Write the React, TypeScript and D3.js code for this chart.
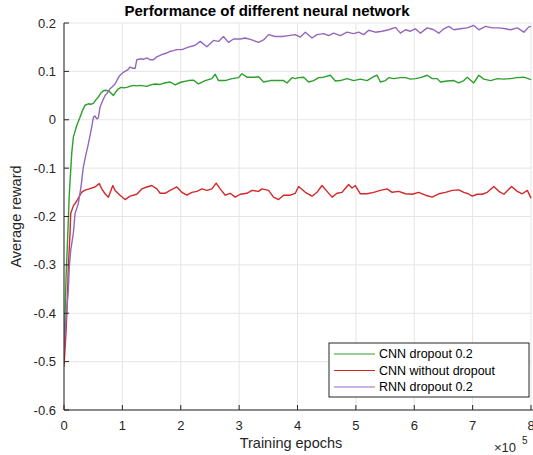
import React from "react";
import * as d3 from "d3";

const xTickValues = [0, 100, 200, 300, 400, 500, 600, 700, 800];
const xTickLabels = ["0", "1", "2", "3", "4", "5", "6", "7", "8"];
const yTickValues = [0.2, 0.1, 0, -0.1, -0.2, -0.3, -0.4, -0.5, -0.6];
const yTickLabels = ["0.2", "0.1", "0", "-0.1", "-0.2", "-0.3", "-0.4", "-0.5", "-0.6"];

const seriesNames = ["CNN dropout 0.2", "CNN without dropout", "RNN dropout 0.2"];
const seriesColors = ["#2ca02c", "#d62728", "#9467bd"];

// epochs in thousands
const greenEpochs = [0,1.7,3.4,5.7,7.4,9.1,11.5,13.2,16,21.8,27.4,32,36,41.7,46,50.3,54,58.8,63,67.4,72,76,80,84.6,89,93.1,98,103,107.5,113,118.9,124,130.4,136,141.9,148,156.1,164.7,172,181.8,190.4,199,201.9,213.2,221.8,230.4,241.9,253.3,259,264.7,276.2,287.6,299,304.8,313.4,324.7,333.3,341.9,353.3,364.8,376.2,382,390.6,396.2,401.9,410.5,419,427.6,436.2,444.8,456.3,464.8,473.4,484.9,496.2,507.7,519.2,530.5,536.4,542,550.6,556.3,564.8,576.3,584.9,593.5,602,610.6,622.1,630.7,639.3,644.9,656.4,667.8,676.3,684.9,690.7,702,710.6,719.2,730.7,742.2,753.5,765,776.5,787.8,800];
const greenReward = [-0.47,-0.41,-0.33,-0.26,-0.208,-0.153,-0.105,-0.07,-0.036,-0.012,0.005,0.02,0.03,0.033,0.032,0.034,0.04,0.047,0.055,0.06,0.061,0.059,0.056,0.05,0.058,0.064,0.067,0.066,0.067,0.069,0.071,0.07,0.071,0.07,0.069,0.072,0.074,0.073,0.076,0.078,0.072,0.077,0.078,0.081,0.082,0.074,0.081,0.085,0.094,0.081,0.081,0.085,0.087,0.095,0.088,0.088,0.089,0.078,0.081,0.081,0.081,0.076,0.087,0.085,0.087,0.088,0.078,0.081,0.087,0.088,0.092,0.08,0.081,0.085,0.081,0.084,0.081,0.089,0.092,0.078,0.081,0.087,0.085,0.087,0.087,0.084,0.085,0.087,0.092,0.085,0.085,0.078,0.08,0.081,0.076,0.081,0.088,0.076,0.092,0.084,0.081,0.085,0.084,0.085,0.087,0.088,0.083];

const redEpochs = [0,3.4,5.7,7.4,10.3,11.5,16,21.8,30,35,43,53,60.5,64.7,70.3,76,83.6,87.5,96,104.6,113.2,124.7,133.3,141.9,150.4,159,164.7,173.2,181.8,193.3,201.9,210.5,219,227.6,236.2,244.8,253.3,260.7,267.6,276.2,284.7,293.3,301.9,313.4,321.9,333.3,339,350.4,359,367.6,376.2,387.6,396.2,401.9,413.4,424.9,433.4,442,450.6,459.2,467.8,476.3,487.6,493.5,499.1,507.7,519.2,530.5,542,553.5,562.1,573.4,584.9,596.4,607.7,619.2,630.7,642,653.5,665,676.3,684.9,692.5,699.3,707.9,716.5,725,736.4,744.9,753.5,766.7,776.5,785.1,793.7,800];
const redReward = [-0.51,-0.44,-0.373,-0.305,-0.235,-0.194,-0.178,-0.168,-0.15,-0.146,-0.143,-0.139,-0.132,-0.143,-0.153,-0.16,-0.136,-0.146,-0.156,-0.165,-0.158,-0.154,-0.143,-0.139,-0.136,-0.143,-0.152,-0.152,-0.146,-0.139,-0.15,-0.156,-0.15,-0.148,-0.143,-0.146,-0.143,-0.131,-0.143,-0.156,-0.152,-0.16,-0.154,-0.152,-0.146,-0.148,-0.143,-0.146,-0.16,-0.165,-0.156,-0.156,-0.152,-0.138,-0.15,-0.158,-0.15,-0.136,-0.148,-0.16,-0.152,-0.15,-0.134,-0.141,-0.136,-0.153,-0.153,-0.15,-0.146,-0.143,-0.15,-0.148,-0.153,-0.154,-0.15,-0.156,-0.16,-0.153,-0.15,-0.146,-0.145,-0.15,-0.153,-0.158,-0.154,-0.154,-0.15,-0.138,-0.148,-0.154,-0.138,-0.148,-0.153,-0.146,-0.162];

const purpleEpochs = [0,1.7,4.6,7.4,9.1,11.5,16,18.9,24.5,29,33.1,37,41.7,45,47.5,50.3,53,56.1,58.8,61.7,64.7,70.3,73.2,78.9,81.8,87.5,93.1,96,101.7,104.6,109,113.2,117,121.8,124.7,130.4,136,141.9,147.5,153.2,159,164.7,170.3,176.2,181,187.5,193,201.9,213.2,224.7,233.3,244.8,256.1,264.7,273.2,281.8,290.4,301.9,310.5,321.9,333.3,341.9,350.4,361.9,373.4,384.7,396.2,404.8,413.4,424.9,433.4,444.8,453.3,461.9,473.4,484.9,496.2,504.8,513.4,521.9,533.4,544.9,556.3,567.8,576.3,584.9,593.5,602,610.6,622.1,633.4,642,650.6,659.2,667.8,679.2,690.7,702,710.6,722.1,733.6,744.9,756.4,765,776.5,787.8,796.4,800];
const purpleReward = [-0.48,-0.44,-0.394,-0.353,-0.305,-0.27,-0.235,-0.194,-0.173,-0.14,-0.098,-0.075,-0.05,-0.03,-0.015,0.005,0.008,0.002,0.004,0.026,0.035,0.05,0.054,0.064,0.067,0.074,0.087,0.092,0.098,0.1,0.103,0.109,0.107,0.106,0.124,0.126,0.125,0.128,0.124,0.124,0.13,0.133,0.136,0.138,0.141,0.143,0.145,0.145,0.15,0.154,0.162,0.151,0.164,0.162,0.172,0.16,0.167,0.167,0.169,0.165,0.16,0.165,0.176,0.172,0.172,0.174,0.176,0.171,0.181,0.169,0.176,0.178,0.174,0.179,0.174,0.181,0.178,0.181,0.176,0.185,0.181,0.183,0.186,0.191,0.179,0.186,0.183,0.188,0.179,0.19,0.186,0.179,0.188,0.193,0.186,0.188,0.19,0.195,0.186,0.193,0.19,0.19,0.188,0.186,0.19,0.181,0.192,0.193];

const W = 533, H = 455;
const L = 64, R = 531, T = 23, B = 410;
const FONT = "'Liberation Sans', Arial, Helvetica, sans-serif";
const TXT = "#262626";

export default function App() {
  const x = d3.scaleLinear().domain([0, 800]).range([L, R]);
  const y = d3.scaleLinear().domain([-0.6, 0.2]).range([B, T]);
  const line = d3.line<[number, number]>().x((d) => x(d[0])).y((d) => y(d[1]));
  const series = [
    greenEpochs.map((e, i) => [e, greenReward[i]] as [number, number]),
    redEpochs.map((e, i) => [e, redReward[i]] as [number, number]),
    purpleEpochs.map((e, i) => [e, purpleReward[i]] as [number, number]),
  ];
  const legX = 329, legY = 343, legW = 200, legH = 54;
  return (
    <svg width={W} height={H} style={{ position: "absolute", left: 0, top: 0, background: "#fff" }} fontFamily={FONT}>
      <defs>
        <clipPath id="plot">
          <rect x={L} y={T - 1} width={R - L + 2} height={B - T + 2} />
        </clipPath>
      </defs>
      {/* grid */}
      {xTickValues.map((v) => (
        <line key={"gx" + v} x1={x(v)} x2={x(v)} y1={T} y2={B} stroke="#e5e5e5" strokeWidth={1} />
      ))}
      {yTickValues.map((v) => (
        <line key={"gy" + v} x1={L} x2={R} y1={y(v)} y2={y(v)} stroke="#e5e5e5" strokeWidth={1} />
      ))}
      {/* lines */}
      <g clipPath="url(#plot)">
        {series.map((s, i) => (
          <path key={i} d={line(s) || ""} fill="none" stroke={seriesColors[i]} strokeWidth={1.4} strokeLinejoin="round" />
        ))}
      </g>
      {/* axes */}
      <line x1={L} x2={L} y1={T} y2={B} stroke={TXT} strokeWidth={1} />
      <line x1={L} x2={R + 2} y1={B} y2={B} stroke={TXT} strokeWidth={1} />
      {yTickValues.map((v, i) => (
        <g key={"yt" + v}>
          <line x1={L} x2={L + 5} y1={y(v)} y2={y(v)} stroke={TXT} strokeWidth={1} />
          <text x={L - 8} y={y(v)} dy="0.35em" textAnchor="end" fontSize={13} fill={TXT}>
            {yTickLabels[i]}
          </text>
        </g>
      ))}
      {xTickValues.map((v, i) => (
        <g key={"xt" + v}>
          <line x1={x(v)} x2={x(v)} y1={B} y2={B - 5} stroke={TXT} strokeWidth={1} />
          <text x={x(v)} y={B + 20} textAnchor="middle" fontSize={13} fill={TXT}>
            {xTickLabels[i]}
          </text>
        </g>
      ))}
      {/* labels */}
      <text x={291} y={448} textAnchor="middle" fontSize={14.5} fill={TXT}>Training epochs</text>
      <text transform={`translate(21,${(T + B) / 2}) rotate(-90)`} textAnchor="middle" fontSize={14.5} fill={TXT}>
        Average reward
      </text>
      <text x={267} y={16} textAnchor="middle" fontSize={15} fontWeight="bold" fill="#000">
        Performance of different neural network
      </text>
      <text x={494} y={452} fontSize={13} fill={TXT}>
        ×10
      </text>
      <text x={522} y={444} fontSize={10} fill={TXT}>5</text>
      {/* legend */}
      <rect x={legX} y={legY} width={legW} height={legH} fill="#fff" stroke={TXT} strokeWidth={1} />
      {seriesNames.map((n, i) => (
        <g key={n}>
          <line x1={legX + 5} x2={legX + 46} y1={legY + 11 + i * 16.5} y2={legY + 11 + i * 16.5} stroke={seriesColors[i]} strokeWidth={1} />
          <text x={legX + 50} y={legY + 11 + i * 16.5} dy="0.35em" fontSize={12.5} fill="#000">
            {n}
          </text>
        </g>
      ))}
    </svg>
  );
}
